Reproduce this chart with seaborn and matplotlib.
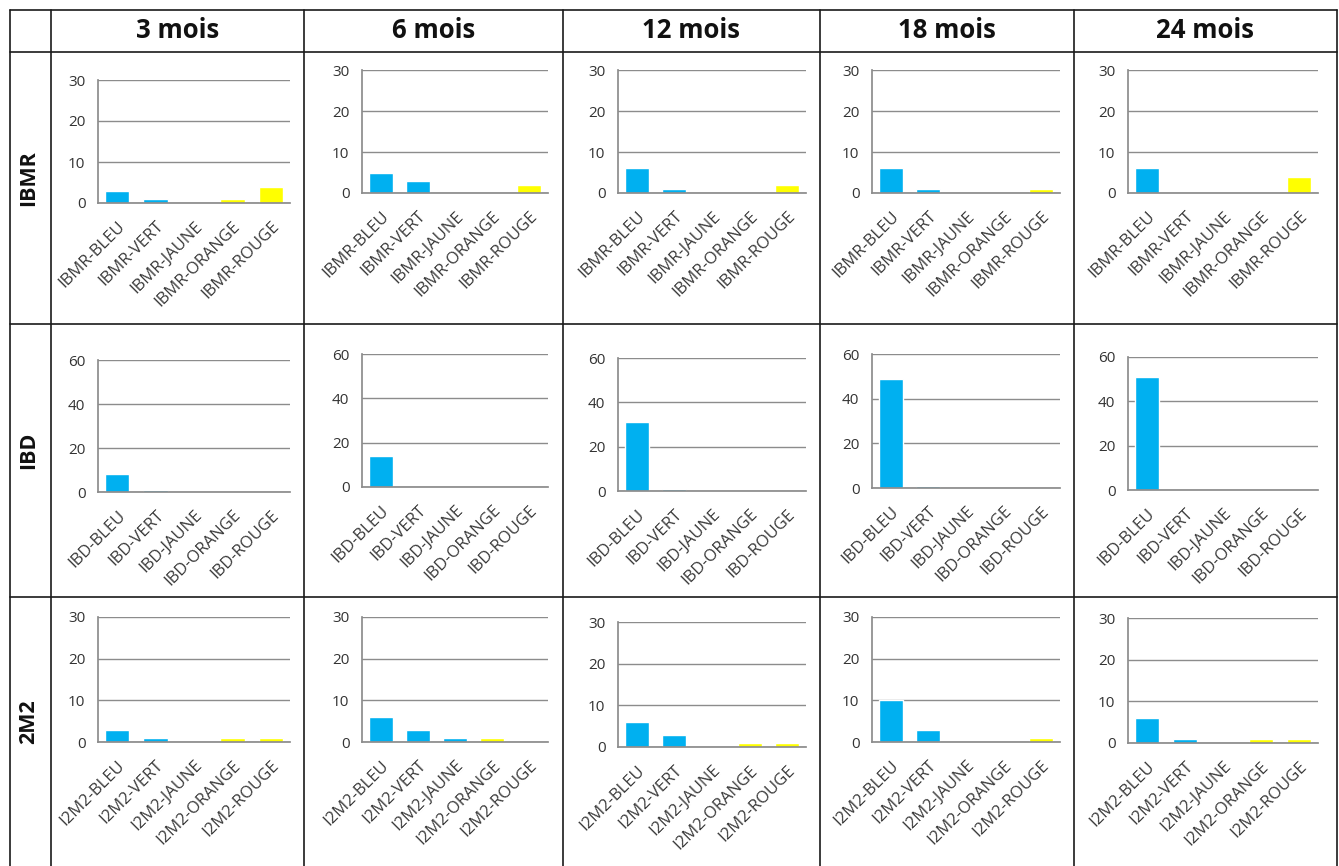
import matplotlib
matplotlib.use("Agg")
import matplotlib.pyplot as plt
import seaborn as sns
from matplotlib.lines import Line2D

W, H = 1339, 866

periods = ["3 mois", "6 mois", "12 mois", "18 mois", "24 mois"]
indices = ["IBMR", "IBD", "2M2"]
prefixes = ["IBMR", "IBD", "I2M2"]
classes = ["BLEU", "VERT", "JAUNE", "ORANGE", "ROUGE"]
class_colors = ["#00B0F0", "#00B0F0", "#00B0F0", "#FFFF00", "#FFFF00"]
y_max = [30, 60, 30]

ibmr_values = [
    [3, 1, 0, 1, 4],
    [5, 3, 0, 0, 2],
    [6, 1, 0, 0, 2],
    [6, 1, 0, 0, 1],
    [6, 0, 0, 0, 4],
]
ibd_values = [
    [8, 1, 0, 0, 0],
    [14, 0, 0, 0, 0],
    [31, 1, 0, 0, 0],
    [49, 1, 0, 0, 0],
    [51, 0, 0, 0, 0],
]
i2m2_values = [
    [3, 1, 0, 1, 1],
    [6, 3, 1, 1, 0],
    [6, 3, 0, 1, 1],
    [10, 3, 0, 0, 1],
    [6, 1, 0, 1, 1],
]
all_values = [ibmr_values, ibd_values, i2m2_values]

# table grid (pixels)
col_lines = [10, 51, 304, 563, 820, 1074, 1337]
row_lines = [10, 52, 324, 597, 866]

# plot areas inside cells (pixels)
ax_left = [98, 362, 618, 872, 1128]
ax_right = [290, 548, 806, 1060, 1318]
ax_top = [[80, 70, 70, 70, 70], [360, 354, 358, 354, 357], [617, 617, 622, 617, 618]]
ax_bottom = [[203, 193, 193, 193, 193], [492, 487, 491, 488, 490], [742, 742, 747, 742, 743]]

sns.set_theme(style="white")
plt.rcParams["font.family"] = ["Open Sans", "DejaVu Sans"]

fig = plt.figure(figsize=(W / 100, H / 100), dpi=100)
fig.patch.set_facecolor("white")


def fx(x):
    return x / W


def fy(y):
    return 1 - y / H


for x in col_lines:
    fig.add_artist(Line2D([fx(x), fx(x)], [fy(row_lines[0]), fy(H)], color="#1a1a1a", lw=1.2))
for y in row_lines[:-1]:
    fig.add_artist(Line2D([fx(col_lines[0]), fx(col_lines[-1])], [fy(y), fy(y)], color="#1a1a1a", lw=1.2))

for j, p in enumerate(periods):
    cx = (col_lines[j + 1] + col_lines[j + 2]) / 2
    fig.text(fx(cx), fy(31), p, ha="center", va="center", fontsize=18.5, fontweight="bold",
             color="#111111")

for i, name in enumerate(indices):
    cy = (row_lines[i + 1] + row_lines[i + 2]) / 2
    fig.text(fx(29), fy(cy - 10), name, ha="center", va="center", rotation=90,
             fontsize=15.5, fontweight="bold", color="#111111")

for i in range(3):
    labels = [f"{prefixes[i]}-{c}" for c in classes]
    for j in range(5):
        l, r = ax_left[j], ax_right[j]
        t, b = ax_top[i][j], ax_bottom[i][j]
        ax = fig.add_axes([fx(l), fy(b), (r - l) / W, (b - t) / H])
        sns.barplot(x=labels, y=all_values[i][j], hue=labels, palette=class_colors,
                    legend=False, ax=ax, width=0.64, saturation=1)
        ax.set_ylim(0, y_max[i])
        step = 10 if y_max[i] == 30 else 20
        ax.set_yticks(range(0, y_max[i] + 1, step))
        ax.yaxis.grid(True, color="#8c8c8c", lw=1.0)
        ax.set_axisbelow(True)
        for s in ["top", "right"]:
            ax.spines[s].set_visible(False)
        ax.spines["left"].set_color("#8c8c8c")
        ax.spines["bottom"].set_color("#8c8c8c")
        ax.set_xlabel("")
        ax.set_ylabel("")
        ax.tick_params(axis="y", length=0, pad=9, labelsize=11, colors="#333333")
        ax.set_xticks(range(5))
        ax.set_xticklabels(labels, rotation=45, ha="right", rotation_mode="anchor",
                           fontsize=12, color="#3a3a3a")
        ax.tick_params(axis="x", length=0, pad=11)
        ax.set_facecolor("white")

fig.savefig("out.png", dpi=100, facecolor="white")
